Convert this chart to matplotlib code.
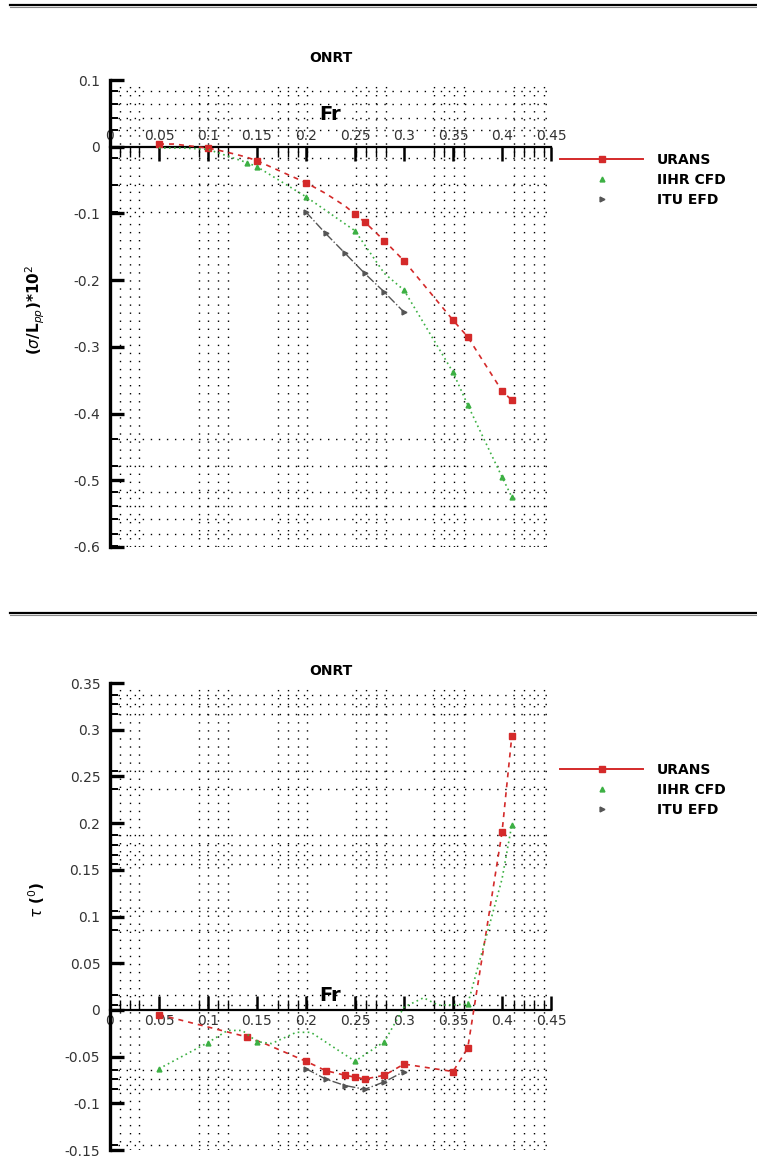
import matplotlib
matplotlib.use("Agg")
import matplotlib.pyplot as plt
from matplotlib.lines import Line2D

plt.rcParams['font.family'] = ['DejaVu Sans']

# ---- sinkage (top) ----
fr_urans_s = [0.05, 0.065, 0.1, 0.11, 0.13, 0.14, 0.15, 0.2, 0.22, 0.24, 0.25, 0.26, 0.28, 0.3, 0.35, 0.365, 0.4, 0.41]
urans_s = [0.004, 0.004, -0.002, -0.005, -0.012, -0.016, -0.021, -0.054, -0.07, -0.089, -0.101, -0.113, -0.141, -0.171, -0.26, -0.285, -0.366, -0.38]
fr_iihr_s = [0.05, 0.075, 0.1, 0.14, 0.15, 0.2, 0.25, 0.28, 0.3, 0.35, 0.365, 0.4, 0.41]
iihr_s = [-0.002, -0.002, -0.004, -0.024, -0.03, -0.075, -0.126, -0.19, -0.215, -0.338, -0.387, -0.495, -0.525]
fr_itu_s = [0.2, 0.22, 0.24, 0.26, 0.28, 0.3]
itu_s = [-0.098, -0.13, -0.16, -0.19, -0.218, -0.248]

# ---- trim (bottom) ----
fr_urans_t = [0.05, 0.14, 0.16, 0.2, 0.22, 0.24, 0.25, 0.26, 0.28, 0.3, 0.35, 0.365, 0.4, 0.41]
urans_t = [-0.005, -0.029, -0.037, -0.055, -0.065, -0.07, -0.072, -0.074, -0.07, -0.058, -0.066, -0.041, 0.19, 0.293]
fr_iihr_t = [0.05, 0.1, 0.12, 0.135, 0.15, 0.165, 0.19, 0.205, 0.25, 0.28, 0.3, 0.32, 0.335, 0.365, 0.4, 0.41]
iihr_t = [-0.063, -0.035, -0.022, -0.022, -0.034, -0.036, -0.024, -0.024, -0.055, -0.034, 0.003, 0.013, 0.005, 0.006, 0.14, 0.198]
fr_itu_t = [0.2, 0.22, 0.24, 0.26, 0.28, 0.3]
itu_t = [-0.063, -0.074, -0.081, -0.085, -0.077, -0.066]

x_ticks = [0, 0.05, 0.1, 0.15, 0.2, 0.25, 0.3, 0.35, 0.4, 0.45]
x_ticklabels = ['0', '0.05', '0.1', '0.15', '0.2', '0.25', '0.3', '0.35', '0.4', '0.45']
x_grid = [0.01, 0.02, 0.03, 0.091, 0.1, 0.11, 0.12, 0.171, 0.182, 0.192, 0.201,
          0.251, 0.261, 0.271, 0.282, 0.331, 0.341, 0.351, 0.361, 0.412, 0.422, 0.433, 0.443]

y_ticks_s = [0.1, 0, -0.1, -0.2, -0.3, -0.4, -0.5, -0.6]
y_ticklabels_s = ['0.1', '0', '-0.1', '-0.2', '-0.3', '-0.4', '-0.5', '-0.6']
y_grid_s = [0.083, 0.064, 0.043, 0.025, -0.017, -0.058, -0.098, -0.438, -0.479,
            -0.518, -0.539, -0.558, -0.58, -0.598]

y_ticks_t = [0.35, 0.3, 0.25, 0.2, 0.15, 0.1, 0.05, 0, -0.05, -0.1, -0.15]
y_ticklabels_t = ['0.35', '0.3', '0.25', '0.2', '0.15', '0.1', '0.05', '0', '-0.05', '-0.1', '-0.15']
y_grid_t = [0.337, 0.327, 0.317, 0.256, 0.236, 0.187, 0.177, 0.166, 0.156, 0.106,
            0.086, 0.016, 0.005, -0.064, -0.074, -0.085, -0.145]

RED = '#d42a2a'
GREEN = '#3cb043'
GRAY = '#555555'

W, H = 757, 1164
fig = plt.figure(figsize=(W / 100, H / 100), dpi=100)


def setup_axes(ax, ylim, yticks, yticklabels, ygrid, top_labels):
    ax.set_xlim(0, 0.45)
    ax.set_ylim(*ylim)
    dots = (0, (1, 4.8))
    for gx in x_grid:
        ax.axvline(gx, color='k', lw=1, ls=dots, zorder=0)
    for gy in ygrid:
        ax.axhline(gy, color='k', lw=1, ls=dots, zorder=0)

    ax.spines['right'].set_visible(False)
    ax.spines['left'].set_linewidth(2.4)
    if top_labels:
        ax.spines['bottom'].set_visible(False)
        ax.spines['top'].set_position(('data', 0))
        ax.spines['top'].set_linewidth(1.6)
        ax.xaxis.set_ticks_position('top')
        ax.xaxis.set_label_position('top')
    else:
        ax.spines['top'].set_visible(False)
        ax.spines['bottom'].set_position(('data', 0))
        ax.spines['bottom'].set_linewidth(1.6)
        ax.xaxis.set_ticks_position('bottom')

    ax.set_xticks(x_ticks)
    ax.set_xticklabels(x_ticklabels)
    ax.set_xticks(x_grid, minor=True)
    ax.set_yticks(yticks)
    ax.set_yticklabels(yticklabels)
    ax.set_yticks(ygrid, minor=True)
    ax.tick_params(axis='x', which='major', direction='in', length=10, width=1.8,
                   labelsize=10, labelcolor='#333333', pad=3)
    ax.tick_params(axis='x', which='minor', direction='in', length=7, width=1.0)
    ax.tick_params(axis='y', which='major', direction='in', length=10, width=2.4,
                   labelsize=10, labelcolor='#333333', pad=7)
    ax.tick_params(axis='y', which='minor', direction='in', length=6, width=1.4)


def legend_at(ax, top_px):
    handles = [
        Line2D([], [], color=RED, lw=1.4, marker='s', ms=4.5),
        Line2D([], [], color=GREEN, ls='none', marker='^', ms=3.5),
        Line2D([], [], color=GRAY, ls='none', marker='>', ms=3.5),
    ]
    ax.legend(handles, ['URANS', 'IIHR CFD', 'ITU EFD'], loc='upper left',
              bbox_to_anchor=(560 / W, 1 - top_px / H), bbox_transform=fig.transFigure,
              frameon=False, handlelength=6.0, handletextpad=1.0, labelspacing=0.42,
              borderpad=0, borderaxespad=0, numpoints=1,
              prop={'weight': 'bold', 'size': 10})


# top panel: sinkage
ax1 = fig.add_axes([110 / W, 1 - 547 / H, 441 / W, 467 / H])
setup_axes(ax1, (-0.6, 0.1), y_ticks_s, y_ticklabels_s, y_grid_s, True)
ax1.plot(fr_urans_s, urans_s, color=RED, lw=1.2, ls=(0, (3, 3)), marker='s', ms=4,
         markevery=[0, 2, 6, 7, 10, 11, 12, 13, 14, 15, 16, 17], zorder=3)
ax1.plot(fr_iihr_s, iihr_s, color=GREEN, lw=1.2, ls=(0, (1, 2)), marker='^', ms=3.5,
         markevery=[3, 4, 5, 6, 8, 9, 10, 11, 12], zorder=3)
ax1.plot(fr_itu_s, itu_s, color=GRAY, lw=1.0, ls='-.', marker='>', ms=3.5, zorder=3)
ax1.set_title('ONRT', fontweight='bold', fontsize=10, pad=13)
ax1.text(0.2245, 0.049, 'Fr', fontsize=14, fontweight='bold', ha='center', va='center')
ax1.set_ylabel(r'($\sigma$/L$_{pp}$)*10$^2$', fontsize=11, fontweight='bold')
ax1.yaxis.set_label_coords(-0.143, 0.507)
legend_at(ax1, 153)

# bottom panel: trim
ax2 = fig.add_axes([110 / W, 1 - 1150 / H, 441 / W, 467 / H])
setup_axes(ax2, (-0.15, 0.35), y_ticks_t, y_ticklabels_t, y_grid_t, False)
ax2.plot(fr_urans_t, urans_t, color=RED, lw=1.2, ls=(0, (3, 3)), marker='s', ms=4,
         markevery=[0, 1, 3, 4, 5, 6, 7, 8, 9, 10, 11, 12, 13], zorder=3)
ax2.plot(fr_iihr_t, iihr_t, color=GREEN, lw=1.2, ls=(0, (1, 2)), marker='^', ms=3.5,
         markevery=[0, 1, 4, 8, 9, 13, 15], zorder=3)
ax2.plot(fr_itu_t, itu_t, color=GRAY, lw=1.0, ls='-.', marker='>', ms=3.5, zorder=3)
ax2.set_title('ONRT', fontweight='bold', fontsize=10, pad=6)
ax2.text(0.2245, 0.015, 'Fr', fontsize=14, fontweight='bold', ha='center', va='center')
ax2.set_ylabel(r'$\tau$ ($^0$)', fontsize=11, fontweight='bold')
ax2.yaxis.set_label_coords(-0.143, 0.535)
legend_at(ax2, 763)

# panel separators
for ypx in (5, 613):
    fig.add_artist(Line2D([10 / W, 1], [1 - ypx / H] * 2, color='k', lw=1.6,
                          transform=fig.transFigure))
    fig.add_artist(Line2D([10 / W, 1], [1 - (ypx + 1.5) / H] * 2, color='#888888', lw=0.8,
                          transform=fig.transFigure))

fig.savefig('out.png', dpi=100)
